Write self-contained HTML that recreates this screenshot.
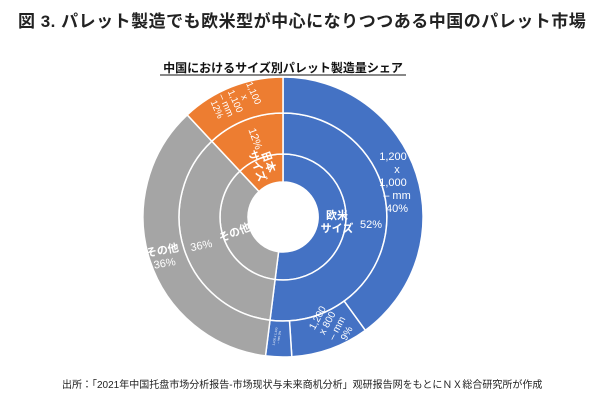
<!DOCTYPE html>
<html><head><meta charset="utf-8"><style>
body{margin:0;width:600px;height:400px;background:#fff;overflow:hidden;font-family:"Liberation Sans","Noto Sans CJK JP",sans-serif}
</style></head><body>
<svg width="600" height="400" xmlns="http://www.w3.org/2000/svg" font-family="Liberation Sans, Noto Sans CJK JP, sans-serif">
<text x="18" y="27" font-size="17" font-weight="bold" fill="#222" letter-spacing="0.5">図 3. パレット製造でも欧米型が中心になりつつある中国のパレット市場</text>
<text x="283" y="72" font-size="12" font-weight="bold" text-anchor="middle" fill="#111">中国におけるサイズ別パレット製造量シェア</text>
<line x1="160" y1="75" x2="406" y2="75" stroke="#111" stroke-width="1"/>
<g stroke="#fff" stroke-width="1.5">
<path fill="#4472C4" d="M283,154 A63,63 0 1 1 275.1,279.5 L278.6,251.7 A35,35 0 1 0 283,182 Z"/>
<path fill="#A5A5A5" d="M275.1,279.5 A63,63 0 0 1 239.9,171.1 L259,191.5 A35,35 0 0 0 278.6,251.7 Z"/>
<path fill="#ED7D31" d="M239.9,171.1 A63,63 0 0 1 283,154 L283,182 A35,35 0 0 0 259,191.5 Z"/>
<path fill="#4472C4" d="M283,113 A104,104 0 1 1 270,320.2 L275.1,279.5 A63,63 0 1 0 283,154 Z"/>
<path fill="#A5A5A5" d="M270,320.2 A104,104 0 0 1 211.8,141.2 L239.9,171.1 A63,63 0 0 0 275.1,279.5 Z"/>
<path fill="#ED7D31" d="M211.8,141.2 A104,104 0 0 1 283,113 L283,154 A63,63 0 0 0 239.9,171.1 Z"/>
<path fill="#4472C4" d="M283,77 A140,140 0 0 1 365.3,330.3 L344.1,301.1 A104,104 0 0 0 283,113 Z"/>
<path fill="#4472C4" d="M365.3,330.3 A140,140 0 0 1 291.8,356.7 L289.5,320.8 A104,104 0 0 0 344.1,301.1 Z"/>
<path fill="#4472C4" d="M291.8,356.7 A140,140 0 0 1 265.5,355.9 L270,320.2 A104,104 0 0 0 289.5,320.8 Z"/>
<path fill="#A5A5A5" d="M265.5,355.9 A140,140 0 0 1 187.2,114.9 L211.8,141.2 A104,104 0 0 0 270,320.2 Z"/>
<path fill="#ED7D31" d="M187.2,114.9 A140,140 0 0 1 283,77 L283,113 A104,104 0 0 0 211.8,141.2 Z"/>
</g>
<g fill="#fff" font-size="11" font-weight="bold" text-anchor="middle">
<text x="337" y="219">欧米</text><text x="337" y="232">サイズ</text>
<text x="371" y="228" font-weight="normal" font-size="11">52%</text>
<text font-weight="normal" font-size="11"><tspan x="393" y="160">1,200</tspan><tspan x="397" y="173">x</tspan><tspan x="393" y="186">1,000</tspan><tspan x="397" y="199">– mm</tspan><tspan x="397" y="212">40%</tspan></text>
<g transform="translate(331,325) rotate(-62)"><text font-weight="normal" font-size="10"><tspan x="0" y="-12">1,200</tspan><tspan x="0" y="-1">x 800</tspan><tspan x="0" y="10">– mm</tspan><tspan x="0" y="21">9%</tspan></text></g>
<g transform="translate(278,337) rotate(-80)"><text font-weight="normal" font-size="3"><tspan x="0" y="-2">1,100 x 1,100</tspan><tspan x="0" y="2">– mm 3%</tspan></text></g>
<g transform="translate(236,236) rotate(-22)"><text>その他</text></g>
<g transform="translate(202,249) rotate(-12)"><text font-weight="normal">36%</text></g>
<g transform="translate(163,254) rotate(-10)"><text>その他</text><text y="13" font-weight="normal">36%</text></g>
<g transform="translate(252,140) rotate(70)"><text font-weight="normal">12%</text></g>
<g transform="translate(265,163) rotate(70)"><text>日本</text><text y="12">サイズ</text></g>
<g transform="translate(238,100) rotate(66)"><text font-weight="normal" font-size="9.5"><tspan x="0" y="-14">1,100</tspan><tspan x="0" y="-4">x</tspan><tspan x="0" y="6">1,100</tspan><tspan x="0" y="16">– mm</tspan><tspan x="0" y="26">12%</tspan></text></g>
</g>
<text x="62" y="388" font-size="10" fill="#222">出所：「2021年中国托盘市场分析报告-市场现状与未来商机分析」观研报告网をもとにＮＸ総合研究所が作成</text>
</svg>
</body></html>
